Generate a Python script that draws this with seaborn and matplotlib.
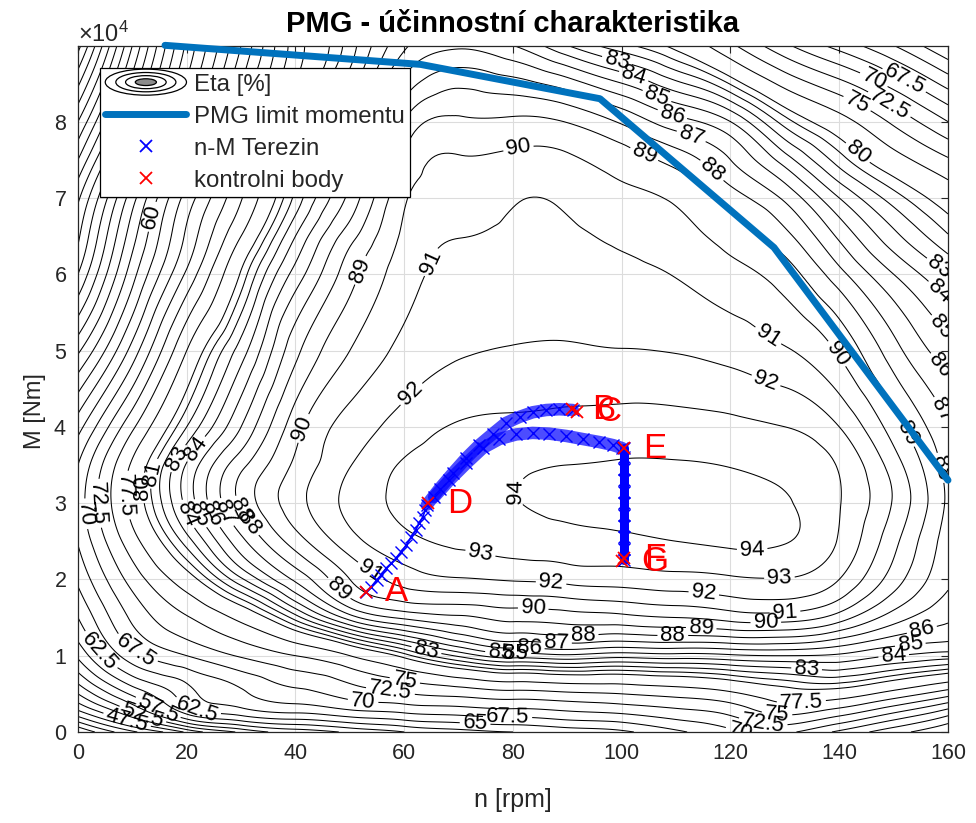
"""
PMG - efficiency map (eta contours) with the torque limit, the Terezin
n-M operating points and the control points A..G.
"""
import numpy as np
import matplotlib
matplotlib.use('Agg')
import matplotlib.pyplot as plt
import matplotlib.tri as mtri
from matplotlib.legend_handler import HandlerBase
from matplotlib.patches import Ellipse, Patch
from matplotlib.lines import Line2D
from matplotlib.ticker import ScalarFormatter, MultipleLocator
import seaborn as sns

# ── Efficiency map (eta in %) ─────────────────────────────────────────────────
N_GRID = [0, 10, 20, 30, 40, 50, 60, 70, 80, 90, 100, 110, 120, 130, 140, 150, 160]   # rpm
M_GRID = [0, 0.25, 0.5, 1, 1.5, 2, 2.5, 3, 3.5, 4, 5, 6, 6.5, 7, 7.5, 8, 9]            # x1e4 Nm
ETA = [
    [35, 42, 48, 53, 56, 58, 60, 61.5, 62.5, 63.5, 64.5, 67, 69.5, 70.5, 67, 63.5, 60],
    [44, 52, 60.5, 63.5, 65, 66.5, 67.5, 68.2, 68.8, 69.5, 70.2, 71.5, 73, 75.5, 73.5, 70, 66],
    [50, 58, 64, 67, 69.2, 71, 72.3, 73.2, 74, 74.5, 75, 75.8, 77, 79, 78.8, 76.5, 73.5],
    [58, 66.5, 70, 72.8, 75, 77.5, 80.5, 83.2, 84.5, 84.8, 84.4, 84.6, 84.8, 85, 84.8, 84, 83.5],
    [62.5, 70.5, 74.8, 78.2, 82.5, 86.5, 88.2, 88.8, 89.3, 89.5, 89.7, 90, 90.4, 90.5, 89.5, 87.5, 86.2],
    [65.5, 73.5, 79, 83.8, 87.2, 90, 91.4, 91.9, 92.1, 92.3, 92.45, 92.65, 92.85, 92.95, 92, 89.5, 87.2],
    [67.7, 76.5, 82.5, 86.7, 89.5, 91.6, 92.75, 93.15, 93.4, 93.6, 93.75, 94, 94.2, 94.05, 92.9, 90.3, 87.5],
    [68.6, 78.4, 84.3, 88.2, 90.6, 92.3, 93.2, 93.6, 93.95, 94.3, 94.45, 94.55, 94.5, 94.1, 93.05, 90.9, 87.8],
    [67.5, 77.9, 84.1, 87.7, 90.2, 91.95, 93.1, 93.5, 93.8, 94, 94.1, 94.1, 93.95, 93.7, 92.9, 90.5, 87.6],
    [64, 74.5, 82, 86, 89.6, 91.4, 92.45, 93.1, 93.25, 93.35, 93.45, 93.4, 93.25, 93.0, 92, 89.5, 87.1],
    [54.5, 66, 77.5, 83.5, 87.7, 90, 91.3, 91.9, 92.05, 92.1, 92.03, 91.95, 91.65, 91.1, 89.85, 87.4, 85.4],
    [45, 59, 70.5, 80.2, 85.4, 88.6, 90.55, 91.35, 91.55, 91.55, 91.25, 90.95, 90.35, 89.5, 87.35, 85, 83],
    [42, 56.5, 68, 77.5, 84, 87.6, 90.2, 90.97, 91.2, 91.2, 90.8, 90.4, 89.6, 88.3, 85.8, 83.3, 81.1],
    [39.5, 54, 66, 74.8, 82.3, 86.3, 89.85, 90.55, 90.9, 90.8, 90.25, 89.85, 88.5, 86.8, 84, 81.5, 79],
    [35, 49.5, 62, 72.5, 81.2, 85.1, 89.1, 90.1, 90.25, 90.15, 89.55, 88.6, 87, 84.5, 81.5, 78.5, 75.3],
    [30, 45, 58.5, 70, 80.2, 83.8, 88.1, 89.15, 89.2, 88.95, 87.85, 86.4, 85, 81.5, 78.5, 74.5, 70],
    [19, 37.5, 53, 65, 76.2, 81.5, 84.8, 85.8, 85, 83, 81.3, 79.5, 75.5, 70.5, 66.5, 62.5, 57.5],
]
LEVELS = list(np.arange(15, 80, 2.5)) + list(range(80, 95))

# ── PMG torque limit ──────────────────────────────────────────────────────────
LIMIT_N = [16, 63, 96, 128, 160]
LIMIT_M = [9.0, 8.75, 8.3, 6.35, 3.3]          # x1e4 Nm

# ── n-M Terezin operating points ──────────────────────────────────────────────
TER_AD_N = [52.9, 53.9, 54.9, 55.8, 56.7, 57.6, 58.5, 59.4, 60.4, 61.3, 62.1, 62.8, 63.4, 63.9]
TER_AD_M = [1.84, 1.90, 1.99, 2.06, 2.15, 2.21, 2.28, 2.36, 2.45, 2.56, 2.65, 2.74, 2.82, 2.91]
TER_UP_N = [64.2, 66.5, 68.9, 71.4, 73.8, 76.3, 78.7, 81.2, 83.6, 86.1, 88.5, 91.0]
TER_UP_M = [2.98, 3.19, 3.39, 3.59, 3.76, 3.91, 4.05, 4.13, 4.19, 4.22, 4.23, 4.22]
TER_LO_N = [65.5, 68.3, 71.4, 74.4, 77.5, 80.6, 83.6, 86.7, 89.8, 92.8, 95.9, 98.4, 100.1]
TER_LO_M = [3.08, 3.30, 3.52, 3.72, 3.84, 3.90, 3.92, 3.91, 3.88, 3.84, 3.80, 3.76, 3.72]
TER_EG_N = [100.4, 100.4, 100.4, 100.4, 100.4, 100.4, 100.4, 100.4, 100.4, 100.4, 100.4]
TER_EG_M = [3.72, 3.60, 3.45, 3.30, 3.15, 3.00, 2.85, 2.70, 2.55, 2.40, 2.26]

# ── control points ────────────────────────────────────────────────────────────
CTRL_LABELS = ['A', 'B', 'C', 'D', 'E', 'F', 'G']
CTRL_N = [52.9, 90.9, 91.7, 64.3, 100.4, 100.5, 100.0]
CTRL_M = [1.84, 4.23, 4.20, 3.00, 3.72, 2.28, 2.24]    # x1e4 Nm

# spots (n, M/1e4) where the contour labels sit in the original
LABEL_SPOTS = [
    (80.5, 3.15), (124, 2.37), (74, 2.34), (129, 2.03), (61, 4.45), (87, 1.95),
    (115, 1.76), (126.5, 4.6), (68.3, 6.05), (53.7, 2.1), (130, 1.6), (126.5, 5.15),
    (81, 7.65), (41.4, 3.98), (83.7, 1.58), (126.5, 1.42), (139, 4.93), (52, 6.05),
    (104, 7.55), (47.6, 1.85), (114.6, 1.34), (152, 3.9), (116.7, 7.37), (109.4, 1.24),
    (92.9, 1.29), (158.5, 3.46), (112.6, 7.77), (158.5, 4.2), (88, 1.2), (109.4, 8.12),
    (158.5, 4.8), (155, 1.4), (83, 1.12), (106.5, 8.34), (158.5, 5.29), (153, 1.2),
    (80.5, 1.07), (102, 8.55), (158.5, 5.77), (150, 1.02), (78, 1.03), (99, 8.77),
    (158.5, 6.1), (21.5, 3.72), (134, 0.83), (64, 1.05), (143.5, 7.6), (52.4, 0.38),
    (57.4, 0.5), (60, 0.64), (73, 0.07), (79, 0.2), (122, 0.04), (126, 0.12),
    (128.5, 0.2), (133, 0.42), (1.5, 2.86), (4.5, 3.0), (7.5, 3.1), (10.5, 3.2),
    (13, 3.4), (18, 3.6), (20, 2.85), (22, 2.85), (24.5, 2.85), (26.5, 2.85),
    (28.5, 2.85), (30.5, 2.85), (4.6, 1.1), (10, 1.0), (22, 0.33), (12, 0.25),
    (15, 0.35), (9, 0.15), (152, 8.55), (146, 8.5), (149, 8.2), (143, 8.2), (13.8, 6.75),
]

LIMIT_COLOR = '#0072BD'
AX_COLOR = '#262626'


class ContourIcon(HandlerBase):
    """MATLAB-like legend icon for a contour plot: nested ellipses."""
    def create_artists(self, legend, orig_handle, xdescent, ydescent,
                       width, height, fontsize, trans):
        cx = 0.5 * width - xdescent
        cy = 0.5 * height - ydescent
        arts = []
        for k, fc in zip([1.0, 0.74, 0.5, 0.26], ['none', 'none', 'none', '0.55']):
            arts.append(Ellipse((cx, cy), width * k, height * 1.55 * k,
                                facecolor=fc, edgecolor='black', lw=0.9,
                                transform=trans))
        return arts


sns.set_theme(style='white')
plt.rcParams['font.family'] = ['Liberation Sans', 'DejaVu Sans']
plt.rcParams['mathtext.fontset'] = 'custom'
plt.rcParams['mathtext.rm'] = 'Liberation Sans'

fig = plt.figure(figsize=(9.76, 8.23), dpi=100)
ax = fig.add_axes([0.0799, 0.1106, 0.8914, 0.8334])

# ── contour map (refined with matplotlib's cubic tri interpolator) ───────────
n_mesh, m_mesh = np.meshgrid(N_GRID, M_GRID)
eta = np.asarray(ETA, dtype=float).ravel()
tri = mtri.Triangulation(n_mesh.ravel() / 14.0, m_mesh.ravel())
tri_f, eta_f = mtri.UniformTriRefiner(tri).refine_field(eta, subdiv=4)
tri_nm = mtri.Triangulation(tri_f.x * 14.0, tri_f.y * 1e4, tri_f.triangles)
cs = ax.tricontour(tri_nm, eta_f, levels=LEVELS, colors='black',
                   linewidths=0.75, zorder=2)
ax.clabel(cs, manual=[(n, m * 1e4) for n, m in LABEL_SPOTS], inline=True,
          inline_spacing=3, fontsize=16, fmt=lambda v: f'{v:g}')

# ── torque limit ──────────────────────────────────────────────────────────────
sns.lineplot(x=LIMIT_N, y=np.array(LIMIT_M) * 1e4, ax=ax, color=LIMIT_COLOR,
             linewidth=5, sort=False, estimator=None, zorder=4)
ax.lines[-1].set_clip_on(False)

# ── Terezin operating points ─────────────────────────────────────────────────
for tn, tm in [(TER_UP_N, TER_UP_M), (TER_LO_N, TER_LO_M)]:
    sns.lineplot(x=tn, y=np.array(tm) * 1e4, ax=ax, color='blue', linewidth=9,
                 alpha=0.7, sort=False, estimator=None, zorder=5)
    ax.plot(tn, np.array(tm) * 1e4, ls='none', marker='x', color='blue',
            ms=8, mew=1.0, zorder=5)
sns.lineplot(x=TER_EG_N, y=np.array(TER_EG_M) * 1e4, ax=ax, color='blue',
             linewidth=6.5, sort=False, estimator=None, zorder=5)
ax.plot(TER_EG_N, np.array(TER_EG_M) * 1e4, ls='none', marker='x',
        color='blue', ms=8, mew=1.0, zorder=5)
ax.plot(TER_AD_N, np.array(TER_AD_M) * 1e4, ls='-', lw=1.2, marker='x',
        color='blue', ms=8, mew=1.0, zorder=5)

# ── control points ────────────────────────────────────────────────────────────
ax.plot(CTRL_N, np.array(CTRL_M) * 1e4, ls='none', marker='x', color='red',
        ms=9, mew=1.3, zorder=6)
for lab, n, m in zip(CTRL_LABELS, CTRL_N, CTRL_M):
    ax.text(n + 3.6, m * 1e4, lab, color='red', fontsize=25, ha='left',
            va='center', zorder=7)

# ── axes cosmetics ────────────────────────────────────────────────────────────
ax.set_xlim(0, 160)
ax.set_ylim(0, 8.99e4)
ax.xaxis.set_major_locator(MultipleLocator(20))
ax.yaxis.set_major_locator(MultipleLocator(1e4))
fmt = ScalarFormatter(useMathText=True)
fmt.set_powerlimits((0, 0))
ax.yaxis.set_major_formatter(fmt)
ax.yaxis.get_offset_text().set_fontsize(17)
ax.yaxis.get_offset_text().set_color('#404040')

ax.grid(True, color='#dcdcdc', linewidth=0.8)
ax.set_axisbelow(True)
ax.tick_params(direction='in', length=5, width=0.8, top=True, right=True,
               labelsize=15.5, colors=AX_COLOR, pad=8)
for s in ax.spines.values():
    s.set_color(AX_COLOR)
    s.set_linewidth(0.9)

ax.set_xlabel('n [rpm]', fontsize=18, color=AX_COLOR, labelpad=17)
ax.set_ylabel('M [Nm]', fontsize=17, color=AX_COLOR)
ax.yaxis.set_label_coords(-0.037, 0.468)
ax.set_title('PMG - účinnostní charakteristika', fontsize=21,
             fontweight='bold', color='black', pad=10)

# ── legend ────────────────────────────────────────────────────────────────────
contour_proxy = Patch(label='Eta [%]')
handles = [
    contour_proxy,
    Line2D([], [], color=LIMIT_COLOR, lw=5, label='PMG limit momentu'),
    Line2D([], [], ls='none', marker='x', color='blue', ms=8, mew=1.3,
           label='n-M Terezin'),
    Line2D([], [], ls='none', marker='x', color='red', ms=8, mew=1.3,
           label='kontrolni body'),
]
leg = ax.legend(handles=handles, handler_map={contour_proxy: ContourIcon()},
                loc='upper left', bbox_to_anchor=(0.025, 0.968),
                borderaxespad=0, fontsize=17.3, handlelength=3.38,
                handletextpad=0.3, labelspacing=0.42, borderpad=0.23,
                fancybox=False, framealpha=1, edgecolor='black')
leg.get_frame().set_linewidth(0.9)
leg.set_zorder(10)

fig.savefig('out.png', dpi=100)
